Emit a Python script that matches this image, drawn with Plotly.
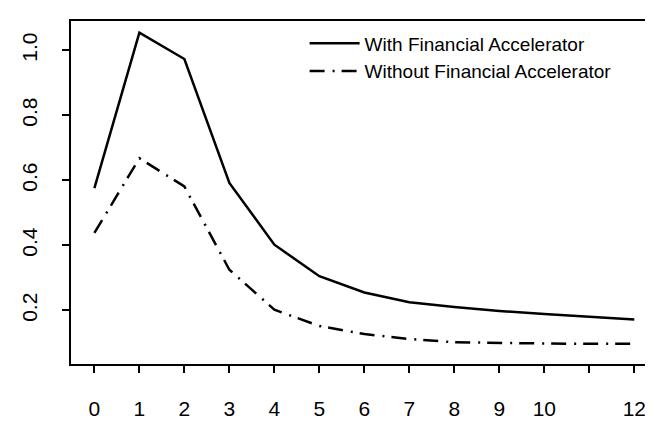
import plotly.graph_objects as go

periods = list(range(13))
with_fa = [0.576, 1.054, 0.973, 0.592, 0.402, 0.305, 0.255, 0.225, 0.210, 0.198, 0.189, 0.180, 0.172]
without_fa = [0.438, 0.668, 0.581, 0.325, 0.202, 0.152, 0.127, 0.112, 0.102, 0.099, 0.098, 0.097, 0.097]
x_tick_vals = list(range(13))
x_tick_text = ["0", "1", "2", "3", "4", "5", "6", "7", "8", "9", "10", "", "12"]
y_tick_vals = [0.2, 0.4, 0.6, 0.8, 1.0]
y_tick_text = ["0.2", "0.4", "0.6", "0.8", "1.0"]

FONT = "Liberation Sans, Arial, sans-serif"

fig = go.Figure()
fig.add_trace(go.Scatter(x=periods, y=with_fa, mode="lines",
                         name="With Financial Accelerator",
                         line=dict(color="black", width=2.5)))
fig.add_trace(go.Scatter(x=periods, y=without_fa, mode="lines",
                         name="Without Financial Accelerator",
                         line=dict(color="black", width=2.5, dash="15px,8px,2px,7px")))

axis_common = dict(showgrid=False, zeroline=False, showline=True, linecolor="black",
                   linewidth=2, mirror=True, ticks="outside", ticklen=7, tickwidth=2,
                   tickcolor="black", tickfont=dict(family=FONT, size=21, color="black"))

fig.update_xaxes(range=[-0.52, 12.46], tickvals=x_tick_vals, ticktext=x_tick_text,
                 ticklabelstandoff=18, **axis_common)
fig.update_yaxes(range=[0.035, 1.09], tickvals=y_tick_vals, ticktext=y_tick_text,
                 tickangle=-90, ticklabelstandoff=17, **axis_common)

fig.update_layout(
    width=653, height=421,
    margin=dict(l=63, r=4, t=13, b=65),
    paper_bgcolor="white", plot_bgcolor="white",
    showlegend=True,
    legend=dict(x=0.4, y=0.99, xanchor="left", yanchor="top",
                font=dict(family=FONT, size=19, color="black"),
                bgcolor="rgba(0,0,0,0)", tracegroupgap=0, itemwidth=50),
    font=dict(family=FONT, color="black"),
)

fig.write_html("out.html")
